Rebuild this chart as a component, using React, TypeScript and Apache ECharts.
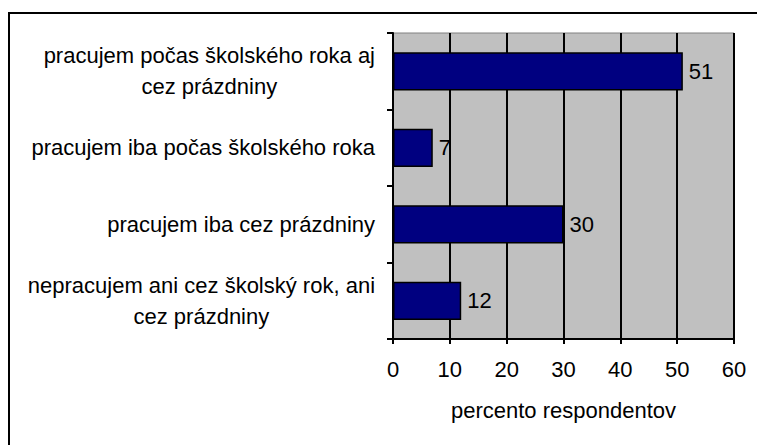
import React, { useEffect, useRef } from "react";
import * as echarts from "echarts";

const categories: string[] = [
  "pracujem počas školského roka aj\ncez prázdniny",
  "pracujem iba počas školského roka",
  "pracujem iba cez prázdniny",
  "nepracujem ani cez školský rok, ani\ncez prázdniny",
];
const values: number[] = [51, 7, 30, 12];
const xTicks = { min: 0, max: 60, interval: 10 };
const xAxisTitle = "percento respondentov";

const FONT = "'Liberation Sans', Arial, sans-serif";
const FS = 22;

export default function App() {
  const ref = useRef<HTMLDivElement>(null);
  useEffect(() => {
    document.body.style.margin = "0";
    if (!ref.current) return;
    const chart = echarts.init(ref.current, null, { renderer: "svg" });
    chart.setOption({
      animation: false,
      backgroundColor: "#ffffff",
      textStyle: { fontFamily: FONT },
      graphic: [
        {
          type: "rect",
          shape: { x: 9, y: 13, width: 800, height: 500 },
          style: { fill: "none", stroke: "#000", lineWidth: 2 },
          silent: true,
          z: -1,
        },
      ],
      grid: {
        left: 393,
        right: 23,
        top: 33,
        bottom: 106,
        show: true,
        backgroundColor: "#C0C0C0",
        borderColor: "#808080",
        borderWidth: 1,
      },
      xAxis: {
        type: "value",
        min: xTicks.min,
        max: xTicks.max,
        interval: xTicks.interval,
        name: xAxisTitle,
        nameLocation: "middle",
        nameGap: 60,
        nameTextStyle: { fontSize: FS, color: "#000", fontFamily: FONT },
        axisLine: { show: true, lineStyle: { color: "#000", width: 2 } },
        axisTick: { show: true, length: 5, lineStyle: { color: "#000", width: 2 } },
        axisLabel: { fontSize: FS, color: "#000", margin: 19, fontFamily: FONT },
        splitLine: { show: true, lineStyle: { color: "#000", width: 2 } },
      },
      yAxis: {
        type: "category",
        inverse: true,
        data: categories,
        axisLine: { show: true, lineStyle: { color: "#000", width: 2 } },
        axisTick: { show: true, length: 6, lineStyle: { color: "#000", width: 2 } },
        axisLabel: {
          margin: 18,
          align: "right",
          color: "#000",
          fontSize: FS,
          lineHeight: 31,
          fontFamily: FONT,
          formatter: (v: string) =>
            v
              .split("\n")
              .map((l) => `{c|${l}}`)
              .join("\n"),
          rich: {
            c: {
              align: "center",
              fontSize: FS,
              lineHeight: 31,
              color: "#000",
              fontFamily: FONT,
            },
          },
        },
      },
      series: [
        {
          type: "bar",
          data: values,
          barCategoryGap: "50%",
          itemStyle: { color: "#000080", borderColor: "#000", borderWidth: 1.5 },
          label: {
            show: true,
            position: "right",
            distance: 6,
            fontSize: FS,
            color: "#000",
            fontFamily: FONT,
          },
        },
      ],
    });
    return () => chart.dispose();
  }, []);
  return <div ref={ref} style={{ width: 757, height: 445 }} />;
}
